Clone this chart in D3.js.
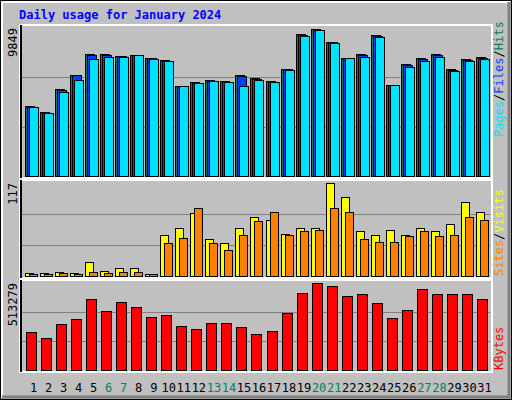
<!DOCTYPE html>
<html lang="en">
<head>
  <meta charset="UTF-8" />
  <title>Daily usage</title>
  <style>
    body { margin: 0; }
    text { font-family: "DejaVu Sans Mono", monospace; font-size: 12px; }
  </style>
</head>
<body>
  <svg width="512" height="400"></svg>
  <script src="https://d3js.org/d3.v7.min.js"></script>
  <script>
    // data
    const days = d3.range(1, 32);
    const weekend = [6, 7, 13, 14, 20, 21, 27, 28];
    const hits = [4660, 4260, 5790, 6720, 8120, 8120, 7980, 8050, 7850, 7720, 5990, 6260, 6390, 6320, 6720, 6520, 6320, 7120, 9450, 9780, 8920, 7850, 8120, 9380, 6060, 7450, 7850, 8120, 7120, 7780, 7920];
    const files = [4590, 4190, 5720, 6720, 8050, 8050, 7980, 8050, 7850, 7650, 5990, 6190, 6320, 6260, 6650, 6460, 6260, 7120, 9380, 9720, 8920, 7850, 8050, 9320, 6060, 7380, 7780, 8050, 7050, 7720, 7850];
    const pages = [4590, 4190, 5590, 6390, 7790, 7920, 7920, 8050, 7780, 7650, 5990, 6190, 6320, 6260, 5990, 6390, 6260, 7050, 9320, 9720, 8850, 7850, 7920, 9260, 6060, 7250, 7650, 7920, 6990, 7650, 7780];
    const visits = [4, 4, 5, 4, 17, 6, 10, 10, 2, 51, 61, 79, 47, 41, 60, 74, 71, 53, 61, 60, 117, 99, 57, 51, 58, 51, 60, 56, 65, 93, 81];
    const sites = [3, 3, 4, 3, 5, 4, 5, 5, 2, 41, 48, 85, 42, 33, 52, 69, 80, 52, 56, 58, 85, 80, 47, 43, 43, 50, 57, 50, 51, 74, 71];
    const kbytes = [226000, 190000, 274000, 298000, 418000, 346000, 400000, 370000, 310000, 322000, 262000, 244000, 280000, 280000, 256000, 214000, 232000, 334000, 453000, 513279, 495000, 436000, 448000, 394000, 304000, 352000, 477000, 448000, 448000, 448000, 418000];

    const svg = d3.select("svg");
    svg.append("rect").attr("x", 0.5).attr("y", 0.5).attr("width", 511).attr("height", 399)
      .attr("fill", "#c0c0c0").attr("stroke", "#000");
    svg.append("path").attr("d", "M2,398V2H510").attr("fill", "none").attr("stroke", "#fff").attr("stroke-width", 2);
    svg.append("path").attr("d", "M2,397H509V2").attr("fill", "none").attr("stroke", "#808080").attr("stroke-width", 3);

    svg.append("text").attr("x", 19).attr("y", 19).attr("fill", "#0000ff")
      .style("font-weight", "bold").text("Daily usage for January 2024");

    const x = d3.scaleBand().domain(days).range([23, 489]).paddingInner(0);

    const panels = [
      { y0: 25, y1: 178, max: 9849 },
      { y0: 180, y1: 278, max: 117 },
      { y0: 280, y1: 372, max: 513279 }
    ];

    panels.forEach(p => {
      p.scale = d3.scaleLinear().domain([0, p.max]).range([p.y1 - 2, p.y0 + 3]);
      const g = svg.append("g");
      g.append("rect").attr("x", 20).attr("y", p.y0).attr("width", 472).attr("height", p.y1 - p.y0)
        .attr("fill", "#c0c0c0").attr("stroke", "#fff").attr("stroke-width", 2);
      g.append("path").attr("d", `M21,${p.y0}H21V${p.y1}`).attr("stroke", "#000").attr("stroke-width", 2);
      [1 / 3, 2 / 3].forEach(f => {
        const yy = Math.round(p.scale(p.max * f)) + 0.5;
        g.append("line").attr("x1", 22).attr("x2", 490).attr("y1", yy).attr("y2", yy)
          .attr("stroke", "#808080");
      });
      svg.append("text").attr("transform", `translate(17,${p.y0 + 3}) rotate(-90)`)
        .attr("text-anchor", "end").text(d3.format("d")(p.max));
    });

    function bars(data, panel, dx, w, color) {
      const s = panels[panel].scale;
      svg.append("g").selectAll("rect").data(data).join("rect")
        .attr("x", (d, i) => Math.round(x(days[i])) + dx + 0.5)
        .attr("y", d => Math.round(s(d)) + 0.5)
        .attr("width", w)
        .attr("height", d => Math.round(s(0) - s(d)))
        .attr("fill", color).attr("stroke", "#000");
    }
    bars(hits, 0, 2, 9, "#00805c");
    bars(files, 0, 4, 9, "#0040ff");
    bars(pages, 0, 6, 9, "#00e0ff");
    bars(visits, 1, 2, 8, "#ffff00");
    bars(sites, 1, 6, 8, "#ff8000");
    bars(kbytes, 2, 3, 10, "#ff0000");

    svg.append("g").selectAll("text").data(days).join("text")
      .attr("x", d => x(d) + x.bandwidth() / 2 + 3)
      .attr("y", 392).attr("text-anchor", "middle")
      .attr("fill", d => weekend.includes(d) ? "#00805c" : "#000")
      .text(d => d);

    function sideLabel(y, parts) {
      const t = svg.append("text").attr("transform", `translate(503,${y}) rotate(-90)`);
      parts.forEach(([s, c]) => t.append("tspan").attr("fill", c).text(s));
    }
    sideLabel(137, [["Pages", "#00e0ff"], ["/", "#000"], ["Files", "#0040ff"], ["/", "#000"], ["Hits", "#00805c"]]);
    sideLabel(276, [["Sites", "#ff8000"], ["/", "#000"], ["Visits", "#ffff00"]]);
    sideLabel(370, [["KBytes", "#ff0000"]]);
  </script>
</body>
</html>
